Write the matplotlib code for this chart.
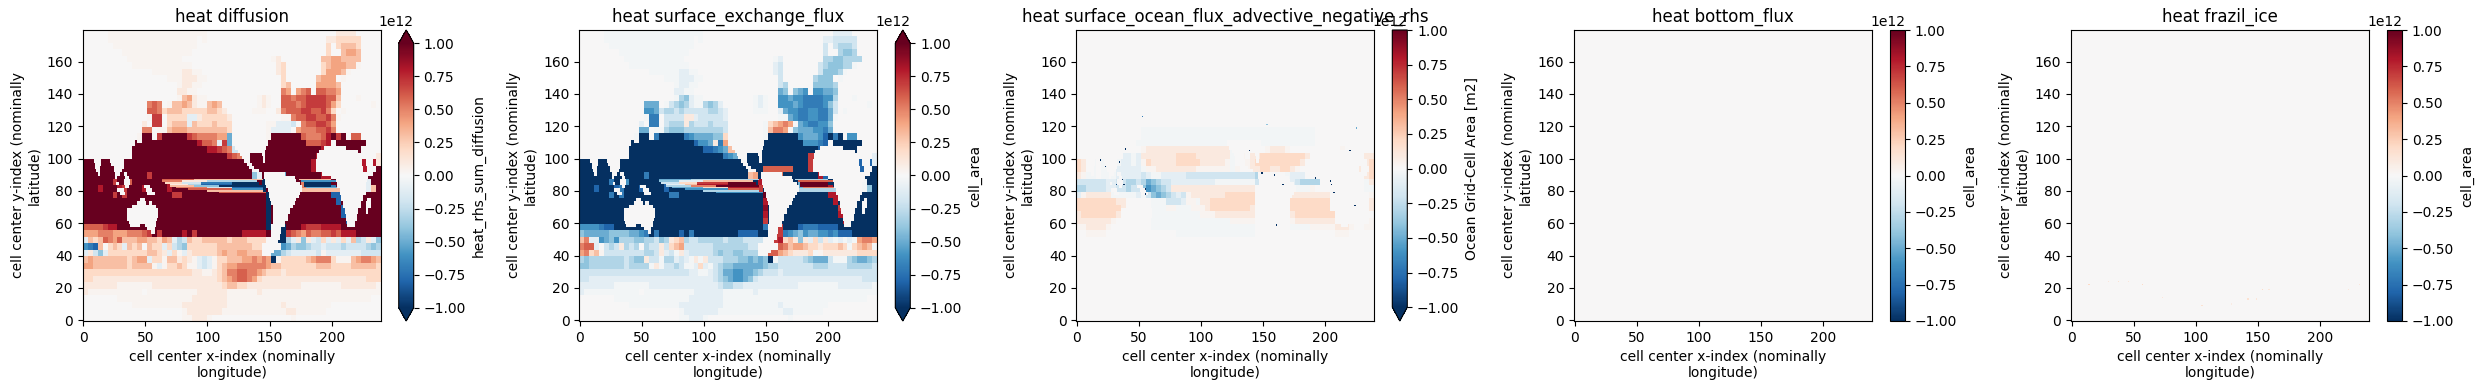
import numpy as np
import matplotlib
matplotlib.use("Agg")
import matplotlib.pyplot as plt

# values, on a 60 x 45 block grid (4 cells per block), top row first
# . zero   , ; faint +/-   1-9 = +0.1..0.9   a-i = -0.1..-0.9   X K = beyond the limits
diffusion_rows = [
    ".....,,,,, ,,,,,,,,,, ,,,,,..... .......... .......... .1111.....",
    ".....,,,,, ,,,,,,,,,, ,,,.,..... .......... .........1 122222....",
    "......,,,, ,,,,,,,,,, ,,,....... .......... .........2 .23332....",
    "........,, ,,,,,,,,,, ,,........ .......... .........2 ..3443....",
    ".........  ,,,,,,,,,, ,......... .........,1........3 3443333...",
    ".......... ,,,,,,,,,, ,,........ .........1 2.......23 44433,....",
    ".......... ....,,,,,, 11,,...... .........1 2.......24 443,......",
    ".......... .......,,, 111,,..... .......... 2......344 4.,.......",
    ".......... ........., 11,,...... .......... 23.....444 43........",
    ".......... .........1 1,,....... .......... 54.456.665 54........",
    ".......... ........., 341,,..... .....,1,.. 6656677776 63...,....",
    ".......... ...565.,33 431,,343.. .....,1,.. 6665677776 42......,.",
    ".......... ...665233 3222223321 .....,,,.. 1566677667 52.,......",
    ".......... ...,77.222 2aa1222221 .......... ,,56677667 5,........",
    ".......... ..1.77.233 3a32223222 .......,,a aab.566776 4.........",
    ".......... ..55.,,344 4333333332 .......,aa aa.4555667 5.........",
    ".......... .,XX.7XXXX X76555544e .......,XX XXXX655568 X7X.66....",
    ".......... XXXXXXXXXX XXX8665a7e ......XXXX XXXXX66678 .XXXXXX...",
    ".......... XXXXXXXXXX XXXXX88765 bb....XXXX XXXXXXXX88 ..XXXX....",
    ".......... XXXXXXXXXX XXXXXXXXX7 65XXXXXXXX XXXXXXX8.. .........1",
    "XXXXXXXXXX XXXXXXXXXX XXXXXXXXXX XXXXXXXXXX XXXXXX8888 8888888881",
    "XXXXXXXXXX XXXXXXXXXX XXXXXXXXXX XXXXXXXXXX XXXXXX8888 88888888XX",
    "XXXXXXXXXX XXX7XXXXXX XXXXXXXXXX XXXXdaXXXX eXXXXXXX88 888888XXXX",
    "XXXXXX7XX6 XXXXXXX8XX XXXXXXXXXX XXXXXXKXXX XXXX5XXXXX XXXXXXXaXX",
    "XXX8XXX87X XX8XXXX8XX XXXXXXXXXX XXXXXXKXXX XXXX5XXXXX gXXXXXXa3X",
    "XXXXXX7X7X XXXXXXXX77 XXXXXXXXXX XXXXXXXKXX XXXXXXXXXX hhXXXXXXXX",
    "XXXXXXXXXX XXXXXXXXXX XXXXXXXXXX XXXXXXXKXX XXXXXXXXXX XhXXXXXXXX",
    "XXXXXXXXXX XXXXXXXXXX XXXXXXXXXX XXXXXXXKXX XXXXXXXXXX XXhXXXXXXX",
    "XXXXXXXXXX XXXXXXXXXX XXXXXXXXXX XXXXXXXKXX XXXXXXXXXX XXhXXXXXXX",
    "XXXXXXXXXX XXXXXXXXXX XXXXXXXXXX XXXXXXXKXX XXXXXXXXXX XXXhXXXXXX",
    "6666788XXX XXXXXXXXXX XXXXXXXXXX XXXXXXXK.K KXXX877788 88XXXXXXXX",
    "4445554445 5567X7XXXX 8X7XXXXXXX XX88888X.K K765465566 76888XXXXX",
    "a323654633 34433243ac b322333332 3332222..K Kca1d1ab2a 1a2a3cb1ad",
    "fgh3.232a3 23.322a2bc d222222333 333322.... fecddcbbab bbcbbbbcdc",
    "a1bda22222 2223321a2, a122222343 344333..ee cbaaaaab,a aaaaaabbbb",
    "3433333332 344a22,331 21,aba,223 33445454K, 2222234555 2,,,345543",
    "4433333332 3333,a,223 2,,aba,234 4555555433 2222222333 2222333332",
    "2222222222 2222222222 2211,,1235 5665543222 1222222222 2222222222",
    "2211111111 1111111111 1111111234 5665421111 1111111111 1111111222",
    "1111111,,, ,,,,111111 1111111123 3221111111 1111,,,,,, ,,1111111,",
    "1,,,,,,,,, ,,.,,,,,,, ,,,111111, ,,,,,1,,,, ,,,,,,,,,, ,,,,,,,,,,",
    ".......,,, ,,,,,,,,,, ,,1111111, ,,,,,,,,,, ,,,,,,,,,, ,,,,,,,,..",
    ".......... ,,,,,,,,,, 111111111, ,,,,,,,,,, 1,,,,,,,,, ..........",
    ".......... .......... ,1111111,, ,,,,,,,,,, ,11,,,,,,. ..........",
    ".......... .......... ,,111,.... .......... ..,....... ..........",
]

surface_exchange_rows = [
    ".....;;;;; ;;;;;;;;;; ;;;;;..... .......... .......... .aaaa.....",
    ".....;;;;; ;;;;;;;;;; ;;;.;..... .......... .........a abbbbb....",
    "......;;;; ;;;;;;;;;; ;;;....... .......... .........b .bcccb....",
    "........;; ;;;;;;;;;; ;;........ .......... .........b ..cddc....",
    ".........; ;;;;;;;;;; ;......... .........; a........c cddcccc...",
    ".......... ;;;;;;;;;; ;;........ .........a b.......bc dddcc;....",
    ".......... ....;;;;;; aa;;...... .........a b.......bd ddc;......",
    ".......... .......;;; aaa;;..... .......... b......cdd d.;.......",
    ".......... .........; aa;;...... .......... bc.....ddd dc........",
    ".......... .........a a;;....... .......... ed.def.ffe ed........",
    ".......... .........; cda;;..... .....;a;.. ffeffggggf fc...;....",
    ".......... ...eee.;bc dca;;cdca. .....;a;.. fffefggggf db......;.",
    ".......... ...ffebccb cbbbbbccba .....;;;.. aeffggffgg eb.;......",
    ".......... ...;gg.bbb b11abbbbba .......... ;;efggffgg e;........",
    ".......... ..a.gg.bcc c1cbbbcbbb .......;23 454.efggff d.........",
    ".......... ..ee.;;cdd dccccccccb .......;35 54.deeeffg e.........",
    ".......... .;KK.gKKKK Kgfeeeedd2 .......;KK KKKKfeeefh KgK.ff....",
    ".......... KKKKKKKKKK KKKhffe1g4 ......KKKK KKKKKfffgh .KKKKKK...",
    ".......... KKKKKKKKKK KKKKKhhgfe 33....KKKK KKKKKKKKhh ..KKKK....",
    ".......... KKKKKKKKKK KKKKKKKKKg feKKKKKKKK KKKKKK77.. .........a",
    "KKKKKKKKKK KKKKKKKKKK KKKKKKKKKK KKKKKKKKKK KKKKKK77hh hhhhhhhhha",
    "KKKKKKKKKK KKKKKKKKKK KKKKKKKKKK KKKKKKK666 666KKK77hh hhhhhhhhKK",
    "KKKKKKKKKK KKKgKKKKKK KKKKKKKKKK KKKK34KKKK 5KKKKKKK8h hhhhhhKKKK",
    "KKKKKKgKKf KKKKKKKhKK KKKKKKKKKK KKKKKK8KKK KKKKeKKKKK KKKKKKK;KK",
    "KKKhKKKhgK KKhKKKKhKK KKKKKKKKKK KKKKKK7KKK KKKKeKKKKK 8KKKKKK;dK",
    "KKKKKKgKgK KKKKKKKKgg KKKKKKKKKK KKKKKKKXKK KKKKKKKKKK 88KKKKKKKK",
    "KKKKKKKKKK KKKKKKKKKK KKKKKKKKKK KKKKKKK8KK KKKKKKKKKK K8KKKKKKKK",
    "KKKKKKKKKK KKKKKKKKKK KKKKKKKKKK KKKKKKK9KK KKKKKKKKKK KK7KKKKKKK",
    "KKKKKKKKKK KKKKKKKKKK KKKKKKKKKK KKKKKKK8KK KKKKKKKKKK KK8KKKKKKK",
    "KKKKKKKKKK KKKKKKKKKK KKKKKKKKKK KKKKKKK7KK KKKKKKKKKK KKK8KKKKKK",
    "ffffghhKKK KKKKKKKKKK KKKKKKKKKK KKKKKKKg.7 7KKKhggghh hhKKKKKKKK",
    "deeeeedddd eefgKgKKKK hKgKKKKKKK KKhhhhKK.7 7gfedfeeff gfhhhKKKKK",
    "35aafedfcc cddccbdc12 3cbbcccccb cccbbbb..7 8231d1a2b1 a;a;a;4554",
    "566a.bcb1c bc.cbb1b23 4bbbbbbccc ccccbb.... 6534432212 2232;2343;",
    "4523,bbbbb bbbccb1ab; 1abbbbbcdc cddccc..66 4321112;,1 1111112222",
    "cdcccccccb cdd1bb;cca ba;1;1bbbc ccddededK; bbbbbcdeee b;;;cdeedc",
    "ddcccccccb cccc;1;bbc b;;a2a;bcd deeeeeedcc bbbbbbbccc bbbbcccccb",
    "bbbbbbbbbb bbbbbbbbbb bbaa;;abce effeedcbbb abbbbbbbbb bbbbbbbbbb",
    "bbaaaaaaaa aaaaaaaaaa aaaaaaabcd effedbaaaa aaaaaaaaaa aaaaaaabbb",
    "aaaaaaa;;; ;;;;aaaaaa aaaaaaaabc cbbaaaaaaa aaaa;;;;;; ;;aaaaaaa;",
    "a;;;;;;;;; ;;.;;;;;;; ;;;aaaaaa; ;;;;;a;;;; ;;;;;;;;;; ;;;;;;;;;;",
    ".......;;; ;;;;;;;;;; ;;aaaaaaa; ;;;;;;;;;; ;;;;;;;;;; ;;;;;;;;..",
    ".......... ;;;;;;;;;; aaaaaaaaa; ;;;;;;;;;; a;;;;;;;;; ..........",
    ".......... .......... ;aaaaaaa;; ;;;;;;;;;; ;aa;;;;;;. ..........",
    ".......... .......... ;;aaa;.... .......... ..;....... ..........",
]

advective_rows = [""] * 15 + [
    ".......... ...;;;;;;; ;;;;;;;;;; ;;;;;;;;;; ;;;;;;;;.. ..........",
    ".......... ...;;;;;;; ;;;;;;;;;; ;;;;;;;;;; ;;;;;;;;.. ..........",
    ".......... ..;;;;;;;; ;;;;;;;;;; ;;a;;;;;;; ;;;;;;;;.. ..........",
    ".......... ...,111111 1111111111 1;......,1 11,......1 111,......",
    "11.;;;.;;a a;a1111111 2222111111 1;.,.11222 2222221... .......;11",
    "21.;.;;;;a a;a,211111 2222211111 ,;..,12222 222221.... .......112",
    "21.;.;;;aa aaa;,,1111 1111,,,,,, ,;,.,11221 1221,..... .......122",
    "1,;;.;;;aa aaaba;;aaa aabbbbbbbb bbbbbbc... ..;aaa.... ........12",
    "bbbbbbaabb ccbcedcbba aaaaaaaa;; ;;;;;;b... ...abcccc. ........;1",
    "ccbbbbaabb cbbdfedcb1 1111111111 111111.... ....;;;,.. ........;;",
    "a,11111;;; ;;a;bdedcb ab,1111111 222222.... ...1111111 1........,",
    "2222222211 .....;;;bb ba,,;11222 222222.... ...2222222 2........1",
    "2222222221 .....;;;,, ;;;,,,1222 222221.... ...2222222 2........1",
    "1222222211 .....;;;;; ;;;;;,,,11 111111.... ...1222222 22........",
    "1111111,.. .....;;;;; ;;;;;;;;;; ;,,,,,.... ...,111111 11.......,",
    ",,1111,... .....;;;;; ;;;;;;;;;; ;;;;;;.... ...;;;;,,, ,,111,..,,",
    "..,,,,.... .......... ;;;;;;;;;; ;;;;;;.... .......... ..,,,.....",
] + [""] * 13

# the thin equatorial strips, one cell high: y index, x start, x end, value in 1e12
band_y = [87, 87, 86, 86, 86, 85, 85, 85, 85, 84, 84, 84, 84, 83, 83, 83, 82, 82, 82, 81, 81, 80, 79,
          87, 86, 85, 84, 83, 82, 81, 80]
band_start = [64, 90, 64, 80, 100, 66, 80, 95, 120, 70, 85, 95, 120, 70, 90, 110, 75, 100, 120, 85, 120, 100, 110,
              174, 176, 178, 178, 178, 180, 176, 176]
band_end = [90, 145, 80, 100, 140, 80, 95, 120, 142, 85, 95, 120, 142, 90, 110, 145, 100, 120, 145, 120, 145, 145, 148,
            200, 204, 200, 200, 200, 205, 208, 208]
band_diffusion = [0.6, 0.3, 0.5, 0.1, -0.3, 0.2, -0.2, -0.7, -1.2, 0.1, -0.3, -0.8, -1.2, 0.3, -0.4, -1.2, 0.5, -0.2, -0.8, 0.6, -0.6, 0.3, 0.6,
                  0.3, -0.6, -1.2, -1.2, -1.2, -0.5, 0.3, 0.3]
band_exchange = [-0.5, -0.3, -0.4, -0.1, 0.3, -0.2, 0.2, 0.7, 1.2, -0.1, 0.3, 0.8, 1.2, -0.3, 0.5, 1.2, -0.5, 0.2, 0.8, -0.6, 0.6, -0.3, -0.6,
                 -0.3, 0.6, 1.2, 1.2, 1.2, 0.5, -0.3, -0.3]

# land outlines: y start, y end, x start, x end
land_spans = [
    (108, 112, 0, 42), (110, 112, 44, 48), (104, 108, 0, 40), (100, 104, 0, 38),
    (98, 100, 9, 15), (98, 100, 22, 33), (96, 98, 10, 15), (96, 98, 23, 33),
    (94, 96, 10, 14), (94, 96, 25, 33), (92, 94, 11, 14), (92, 94, 25, 32),
    (90, 92, 12, 14), (90, 92, 26, 30), (90, 92, 33, 36), (88, 90, 26, 28), (88, 90, 34, 37),
    (86, 88, 33, 38), (84, 86, 33, 38), (84, 86, 27, 29), (82, 84, 34, 37), (82, 84, 49, 54),
    (80, 82, 28, 33), (80, 82, 51, 56), (78, 80, 30, 34), (78, 80, 52, 58),
    # Australia
    (74, 76, 46, 50), (72, 74, 44, 51), (72, 74, 53, 56), (70, 72, 40, 59), (64, 70, 36, 61),
    (62, 64, 36, 60), (60, 62, 37, 59), (58, 60, 38, 46), (58, 60, 50, 59), (56, 58, 52, 58), (54, 56, 55, 58),
    # North and Central America
    (108, 112, 121, 149), (106, 108, 123, 148), (104, 106, 125, 147),
    (102, 104, 127, 135), (102, 104, 144, 147), (100, 102, 128, 135), (100, 102, 145, 147),
    (98, 100, 130, 135), (98, 100, 145, 147), (96, 98, 132, 136), (94, 96, 134, 138), (92, 94, 136, 142),
    # South America
    (90, 92, 146, 163), (88, 90, 146, 171), (86, 88, 147, 172), (84, 86, 147, 175), (82, 84, 148, 177),
    (80, 82, 149, 177), (78, 80, 150, 175), (76, 78, 150, 174), (74, 76, 151, 172), (72, 74, 152, 171),
    (70, 72, 153, 169), (66, 70, 153, 167), (62, 66, 153, 165), (58, 62, 153, 163), (54, 58, 153, 160),
    (50, 54, 153, 159), (46, 50, 152, 157), (42, 46, 151, 154),
    # Africa, Arabia, Madagascar
    (106, 108, 194, 212), (104, 106, 190, 222), (100, 104, 189, 224), (100, 104, 227, 232),
    (96, 100, 188, 225), (96, 100, 228, 234), (92, 96, 188, 226), (92, 96, 229, 236),
    (90, 92, 193, 234), (88, 90, 200, 230), (86, 88, 204, 229), (82, 86, 205, 228), (78, 82, 207, 228),
    (74, 78, 208, 226), (70, 74, 210, 224), (66, 70, 211, 222), (62, 66, 212, 221), (58, 62, 213, 219),
    (74, 76, 229, 232), (70, 74, 228, 232), (66, 70, 228, 230),
]

# single cells (x index, y index, value in units of 1e12)
advective_specks_x = [39, 19, 23, 34, 37, 38, 32, 55, 55, 53, 139, 149, 159, 166, 192, 204, 205, 207, 224, 220, 161, 225, 153]
advective_specks_y = [106, 99, 95, 98, 87, 84, 84, 81, 78, 126, 105, 91, 90, 84, 88, 86, 84, 79, 71, 105, 59, 119, 121]
advective_specks_v = [-1.2, -1.2, -1.0, -1.0, -1.2, -1.2, -0.9, -1.2, -1.2, -0.7, -1.2, -1.2, -1.0, -1.2, -1.0, -1.2, -1.2, -1.0, -1.0, -1.0, -1.0, -0.5, -0.4]
frazil_specks_x = [14, 30, 38, 46, 57, 73, 105, 129, 142, 149, 154, 159, 223, 232]
frazil_specks_y = [22, 24, 24, 24, 22, 14, 9, 10, 13, 13, 19, 19, 19, 22]
frazil_specks_v = [0.2, 0.12, 0.15, 0.12, 0.2, 0.12, 0.15, 0.08, 0.15, 0.12, 0.2, 0.12, 0.12, 0.12]

titles = ["heat diffusion", "heat surface_exchange_flux", "heat surface_ocean_flux_advective_negative_rhs",
          "heat bottom_flux", "heat frazil_ice"]
cbar_labels = ["heat_rhs_sum_diffusion", "cell_area", "Ocean Grid-Cell Area [m2]", "cell_area", "cell_area"]
cbar_extends = ["both", "both", "min", "neither", "neither"]

W, H = 2483, 390
left_px = [82.7, 579.3, 1076.3, 1574, 2071]


def level(c):
    if c in ".,;":
        return {".": 0.0, ",": 0.03, ";": -0.03}[c]
    if c == "X":
        return 1.2
    if c == "K":
        return -1.2
    if c.isdigit():
        return int(c) / 10
    return -(ord(c) - 96) / 10


def to_grid(rows):
    blocks = []
    for row in rows:
        s = row.replace(" ", "").ljust(60, ".")[:60]
        blocks.append([level(c) for c in s])
    # one value per block -> one value per model cell, bottom row first
    return np.repeat(np.repeat(np.array(blocks)[::-1], 4, axis=0), 4, axis=1)


def add_band(grid, vals):
    for j, i0, i1, v in zip(band_y, band_start, band_end, vals):
        grid[j, i0:i1] = v
    return grid


def cut_land(grid):
    for j0, j1, i0, i1 in land_spans:
        grid[j0:j1, i0:i1] = 0
    return grid


def add_specks(grid, xs, ys, vals):
    for i, j, v in zip(xs, ys, vals):
        grid[j, i] = v
    return grid


diffusion = cut_land(add_band(to_grid(diffusion_rows), band_diffusion))
surface_exchange = cut_land(add_band(to_grid(surface_exchange_rows), band_exchange))
advective = add_specks(cut_land(to_grid(advective_rows)), advective_specks_x, advective_specks_y, advective_specks_v)
bottom = np.zeros((180, 240))
frazil = add_specks(np.zeros((180, 240)), frazil_specks_x, frazil_specks_y, frazil_specks_v)
fields = [diffusion, surface_exchange, advective, bottom, frazil]

fig = plt.figure(figsize=(W / 100, H / 100), dpi=100)
xc = np.arange(240)
yc = np.arange(180)

for k in range(5):
    ax = fig.add_axes([left_px[k] / W, 1 - 321 / H, 298 / W, 291 / H])
    mesh = ax.pcolormesh(xc, yc, fields[k] * 1e12, cmap="RdBu_r", vmin=-1e12, vmax=1e12, shading="nearest")
    ax.set_title(titles[k])
    ax.set_xlabel("cell center x-index (nominally\nlongitude)")
    ax.set_ylabel("cell center y-index (nominally\nlatitude)")
    cax = fig.add_axes([(left_px[k] + 316) / W, 1 - 321 / H, 15 / W, 291 / H])
    cb = fig.colorbar(mesh, cax=cax, extend=cbar_extends[k])
    cb.set_label(cbar_labels[k])

fig.savefig("out.png", dpi=100)
